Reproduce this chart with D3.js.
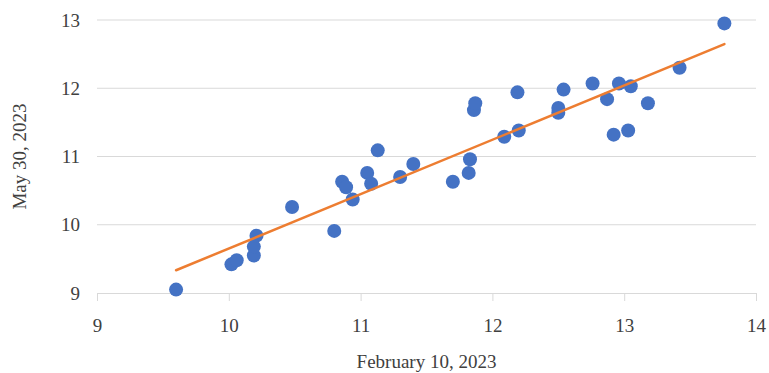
<!DOCTYPE html>
<html>
<head>
<meta charset="utf-8">
<script src="https://cdn.jsdelivr.net/npm/d3@7"></script>
<style>
  body { margin: 0; background: #fff; }
</style>
</head>
<body>
<svg id="chart" width="769" height="373"></svg>
<script>
// x = February 10, 2023 ; y = May 30, 2023
var feb10 = [9.60, 10.02, 10.06, 10.19, 10.19, 10.21, 10.48, 10.80, 10.86, 10.89,
             10.94, 11.05, 11.08, 11.13, 11.30, 11.40, 11.70, 11.82, 11.83, 11.86,
             11.87, 12.09, 12.20, 12.19, 12.50, 12.50, 12.54, 12.76, 12.87, 12.92,
             12.96, 13.05, 13.03, 13.18, 13.42, 13.76];
var may30 = [9.05, 9.42, 9.48, 9.55, 9.68, 9.84, 10.26, 9.91, 10.63, 10.55,
             10.37, 10.76, 10.60, 11.09, 10.70, 10.89, 10.63, 10.76, 10.96, 11.68,
             11.78, 11.29, 11.38, 11.94, 11.64, 11.71, 11.98, 12.07, 11.84, 11.32,
             12.07, 12.03, 11.38, 11.78, 12.30, 12.95];
var xTicks = [9, 10, 11, 12, 13, 14];
var yTicks = [9, 10, 11, 12, 13];

var serif = "'Liberation Serif', 'Times New Roman', serif";

var svg = d3.select("#chart"),
    margin = {left: 97, right: 13, top: 20, bottom: 80},
    width = +svg.attr("width"),
    height = +svg.attr("height");

var x = d3.scaleLinear().domain([9, 14]).range([margin.left, width - margin.right]);
var y = d3.scaleLinear().domain([9, 13]).range([height - margin.bottom, margin.top]);

// gridlines
svg.append("g").selectAll("line").data(yTicks.slice(1)).enter().append("line")
    .attr("x1", x(9)).attr("x2", x(14))
    .attr("y1", function(d) { return y(d); }).attr("y2", function(d) { return y(d); })
    .attr("stroke", "#d9d9d9").attr("stroke-width", 1);

// bottom axis
var xAxis = svg.append("g")
    .attr("transform", "translate(0," + y(9) + ")")
    .call(d3.axisBottom(x).tickValues(xTicks).tickSize(8).tickPadding(18).tickFormat(d3.format("d")));
xAxis.selectAll("path, line").attr("stroke", "#d9d9d9");
xAxis.selectAll("text")
    .style("font-family", serif).style("font-size", "19px").style("fill", "#404040");

// left labels
var yAxis = svg.append("g")
    .attr("transform", "translate(" + x(9) + ",0)")
    .call(d3.axisLeft(y).tickValues(yTicks).tickSize(0).tickPadding(17).tickFormat(d3.format("d")));
yAxis.select(".domain").remove();
yAxis.selectAll("text")
    .style("font-family", serif).style("font-size", "19px").style("fill", "#404040");

// points
var pts = d3.zip(feb10, may30);
svg.append("g").selectAll("circle").data(pts).enter().append("circle")
    .attr("cx", function(d) { return x(d[0]); })
    .attr("cy", function(d) { return y(d[1]); })
    .attr("r", 7)
    .attr("fill", "#4472c4");

// linear trendline (least squares)
var mx = d3.mean(feb10), my = d3.mean(may30);
var sxy = d3.sum(pts, function(d) { return (d[0] - mx) * (d[1] - my); });
var sxx = d3.sum(feb10, function(v) { return (v - mx) * (v - mx); });
var slope = sxy / sxx, icpt = my - slope * mx;
var ext = d3.extent(feb10);
svg.append("line")
    .attr("x1", x(ext[0])).attr("y1", y(icpt + slope * ext[0]))
    .attr("x2", x(ext[1])).attr("y2", y(icpt + slope * ext[1]))
    .attr("stroke", "#ed7d31").attr("stroke-width", 2.5).attr("stroke-linecap", "round");

// axis titles
svg.append("text")
    .attr("x", (x(9) + x(14)) / 2).attr("y", 368)
    .attr("text-anchor", "middle")
    .style("font-family", serif).style("font-size", "19px").style("fill", "#404040")
    .text("February 10, 2023");
svg.append("text")
    .attr("transform", "translate(26," + ((y(9) + y(13)) / 2) + ") rotate(-90)")
    .attr("text-anchor", "middle")
    .style("font-family", serif).style("font-size", "19px").style("fill", "#404040")
    .text("May 30, 2023");
</script>
</body>
</html>
